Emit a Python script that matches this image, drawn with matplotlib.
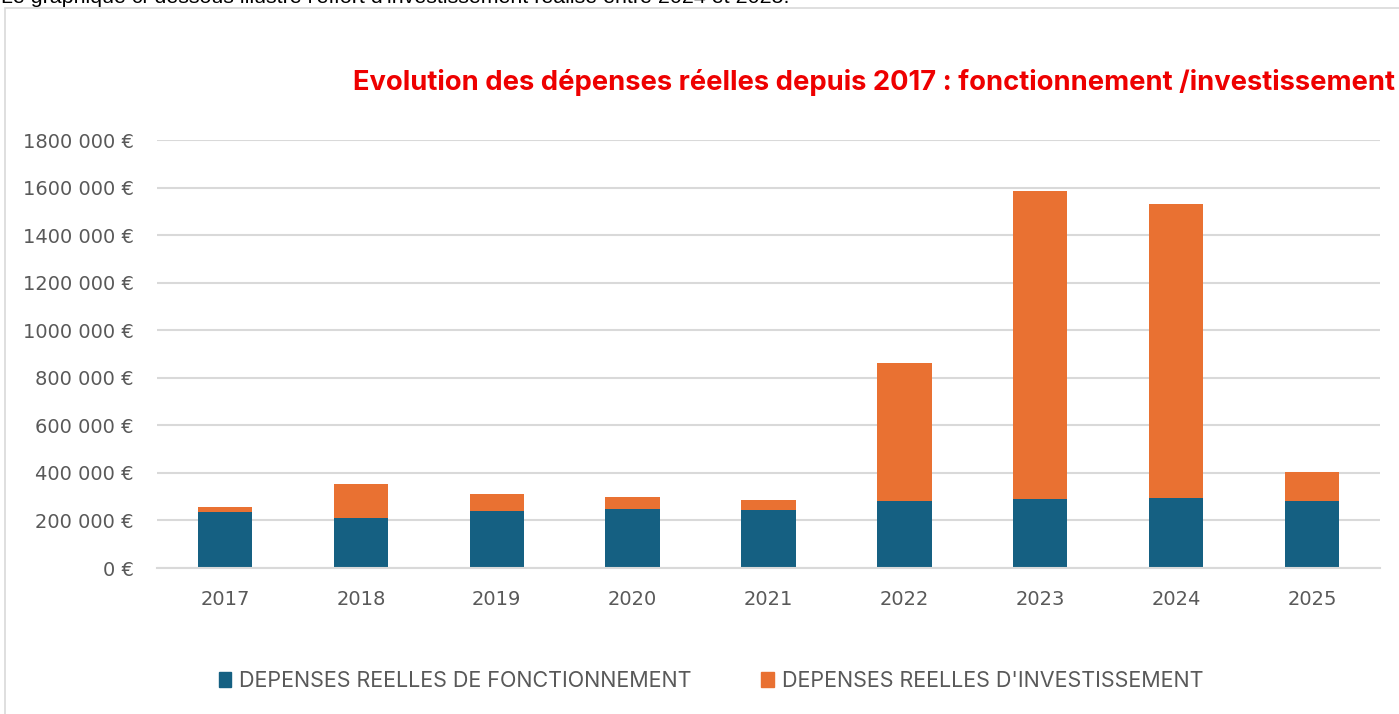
import matplotlib
matplotlib.use("Agg")
import matplotlib.pyplot as plt
from matplotlib.patches import Rectangle, Patch
import numpy as np

# Data
years = ["2017", "2018", "2019", "2020", "2021", "2022", "2023", "2024", "2025"]
fonctionnement = [237000, 212000, 241000, 249000, 245000, 280000, 290000, 296000, 282000]
investissement = [18000, 141000, 70000, 48000, 42000, 582000, 1297000, 1235000, 120000]
y_ticks = [0, 200000, 400000, 600000, 800000, 1000000, 1200000, 1400000, 1600000, 1800000]
y_tick_labels = ["0 €", "200 000 €", "400 000 €", "600 000 €", "800 000 €",
                 "1000 000 €", "1200 000 €", "1400 000 €", "1600 000 €", "1800 000 €"]

BLUE = "#156082"
ORANGE = "#E97132"
GRAY_TXT = "#595959"
GRID = "#d9d9d9"
FONT = ["Inter", "DejaVu Sans"]

W, H = 1399, 714
fig = plt.figure(figsize=(W / 100, H / 100), dpi=100)

# chart frame (runs off the right and bottom edges)
fig.add_artist(Rectangle((5 / W, -0.1), 1.2, 1.1 - 8 / H, transform=fig.transFigure,
                         facecolor="none", edgecolor=GRID, linewidth=1.2))

# cut-off sentence above the frame
fig.text(1 / W, 1 - 3 / H,
         "Le graphique ci-dessous illustre l'effort d'investissement réalisé entre 2024 et 2025.",
         fontsize=15.4, family="Liberation Sans", color="black", va="baseline", ha="left")

ax = fig.add_axes([157 / W, 1 - 568 / H, (1380 - 157) / W, (568 - 140) / H])
x = np.arange(len(years))
ax.bar(x, fonctionnement, width=0.4, color=BLUE, zorder=3)
ax.bar(x, investissement, width=0.4, bottom=fonctionnement, color=ORANGE, zorder=3)

ax.set_xlim(-0.5, len(years) - 0.5)
ax.set_ylim(0, 1800000)
ax.set_yticks(y_ticks)
ax.set_yticklabels(y_tick_labels)
ax.set_xticks(x)
ax.set_xticklabels(years)
for lbl in ax.get_xticklabels() + ax.get_yticklabels():
    lbl.set_family("DejaVu Sans")
ax.tick_params(axis="both", length=0, labelsize=14, labelcolor=GRAY_TXT)
ax.tick_params(axis="y", pad=17)
ax.tick_params(axis="x", pad=16)
ax.grid(axis="y", color=GRID, linewidth=1.5, zorder=0)
for side in ["top", "right", "left"]:
    ax.spines[side].set_visible(False)
ax.spines["bottom"].set_color(GRID)
ax.spines["bottom"].set_linewidth(1.5)
ax.spines["bottom"].set_zorder(4)

fig.text(353 / W, 1 - 82 / H,
         "Evolution des dépenses réelles depuis 2017 : fonctionnement /investissement",
         fontsize=19.7, fontweight="bold", color="#EE0000", family=FONT,
         ha="left", va="center")

handles = [Patch(color=BLUE, label="DEPENSES REELLES DE FONCTIONNEMENT"),
           Patch(color=ORANGE, label="DEPENSES REELLES D'INVESTISSEMENT")]
leg = fig.legend(handles=handles, loc="center", bbox_to_anchor=(711 / W, 1 - 681 / H),
                 ncol=2, frameon=False, handlelength=0.56, handleheight=0.65,
                 handletextpad=0.37, columnspacing=3.25,
                 prop={"family": FONT, "size": 15.5})
for t in leg.get_texts():
    t.set_color(GRAY_TXT)

fig.savefig("out.png", dpi=100)
